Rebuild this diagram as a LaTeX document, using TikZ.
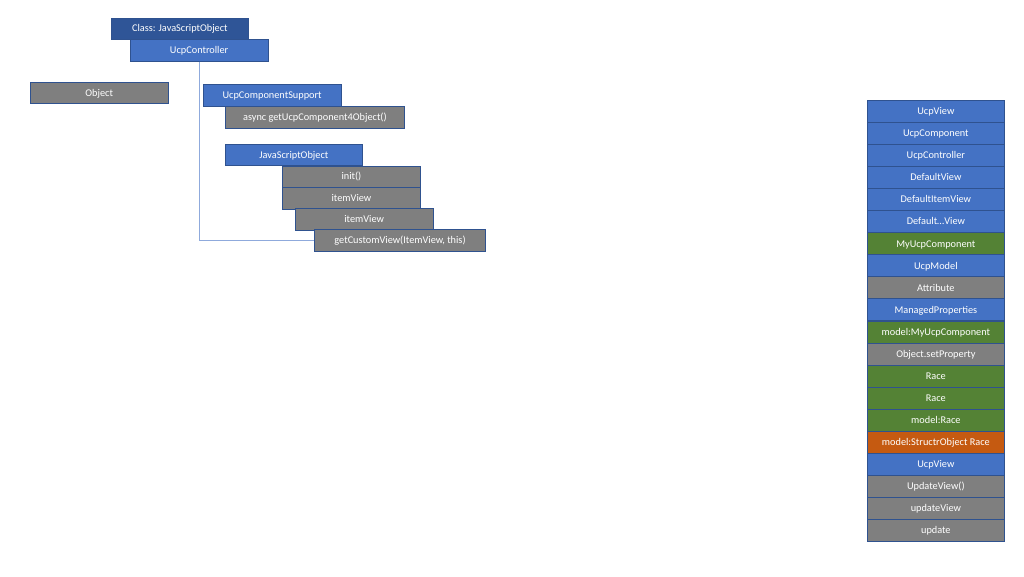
\documentclass[tikz,border=0pt]{standalone}
\usepackage{fontspec}
\setmainfont{Carlito}
\usepackage{xcolor}
\usetikzlibrary{positioning}

\definecolor{ucpblue}{HTML}{4472C4}
\definecolor{ucpdark}{HTML}{2F5597}
\definecolor{ucpgray}{HTML}{7F7F7F}
\definecolor{ucpgreen}{HTML}{548235}
\definecolor{ucporange}{HTML}{C55A11}
\definecolor{ucpedge}{HTML}{2F528F}
\definecolor{ucpline}{HTML}{8FAADC}

\tikzset{
    cls/.style={rectangle, draw=ucpedge, line width=0.8pt, text=white, anchor=north west,
        minimum width=137.5pt, minimum height=21.5pt, inner sep=0pt,
        text height=6.6pt, text depth=0pt,
        font=\fontsize{10.3}{12}\selectfont},
    blue/.style={cls, fill=ucpblue},
    darkblue/.style={cls, fill=ucpdark},
    gray/.style={cls, fill=ucpgray},
    row/.style={cls, minimum height=22pt}
}

\begin{document}
\begin{tikzpicture}[x=1pt, y=-1pt]
    \useasboundingbox (0,0) rectangle (1024,576);

    \node[darkblue] (classjs) at (110.7,17.5) {Class: JavaScriptObject};
    \node[blue] (ctrl) at (130,39.3) {UcpController};
    \node[gray] (object) at (30,81.7) {Object};

    \node[blue] (support) at (203,84.3) {UcpComponentSupport};
    \node[gray, minimum width=179.6pt] (getcomp) at (224.7,106) {async getUcpComponent4Object()};

    \node[blue] (jsobject) at (224.7,143.7) {JavaScriptObject};
    \node[gray] (init) at (282.3,165.5) {init()};
    \node[gray] (itemview) at (282.3,187) {itemView};
    \node[gray] (itemview2) at (295,208.3) {itemView};
    \node[gray, minimum width=170.7pt] (custom) at (314.3,229.3) {getCustomView(ItemView, this)};

    \draw[ucpline, line width=0.8pt] (ctrl.south) |- (custom.west);

    % call stack on the right
    \foreach \i/\c/\t in {0/ucpblue/UcpView, 1/ucpblue/UcpComponent, 2/ucpblue/UcpController,
        3/ucpblue/DefaultView, 4/ucpblue/DefaultItemView, 5/ucpblue/Default\ldots View,
        6/ucpgreen/MyUcpComponent, 7/ucpblue/UcpModel, 8/ucpgray/Attribute,
        9/ucpblue/ManagedProperties, 10/ucpgreen/model:MyUcpComponent, 11/ucpgray/Object.setProperty,
        12/ucpgreen/Race, 13/ucpgreen/Race, 14/ucpgreen/model:Race,
        15/ucporange/model:StructrObject Race, 16/ucpblue/UcpView, 17/ucpgray/UpdateView(),
        18/ucpgray/updateView, 19/ucpgray/update}
        \node[row, fill=\c] (r\i) at (866.7,{100+22.05*\i}) {\t};
\end{tikzpicture}
\end{document}
